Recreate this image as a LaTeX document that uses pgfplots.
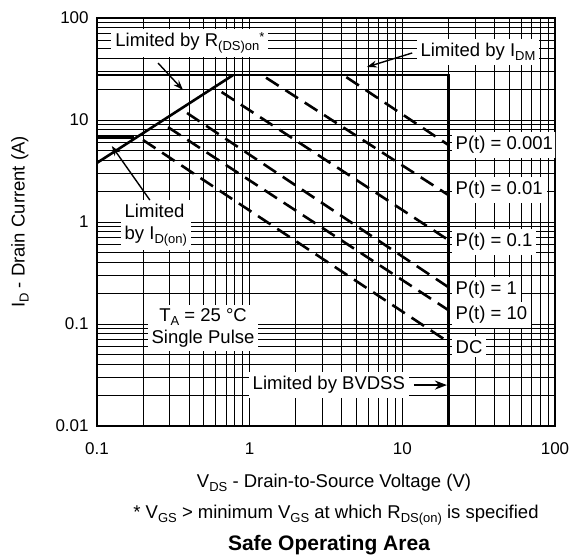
\documentclass[border=0pt]{standalone}
\usepackage{pgfplots}
\pgfplotsset{compat=1.18}
\usetikzlibrary{arrows.meta}
\usepackage{fontspec}
\setmainfont{Liberation Sans}
\newcommand\sub[1]{\raisebox{-4pt}{\fontsize{13}{13}\selectfont #1}}
\tikzset{
  lim/.style={black, line width=2.6pt, line join=miter},
  pw/.style={black, line width=2.6pt, dash pattern=on 15pt off 8pt},
  lbl/.style={fill=white, inner sep=4pt},
}
\begin{document}
\fontsize{18.5}{22}\selectfont
\begin{tikzpicture}
\begin{axis}[
  xmode=log, ymode=log,
  scale only axis, width=458pt, height=408pt,
  xmin=0.1, xmax=100, ymin=0.01, ymax=100,
  xtick={0.1,1,10,100}, xticklabels={0.1,1,10,100},
  ytick={0.01,0.1,1,10,100}, yticklabels={0.01,0.1,1,10,100},
  minor xtick={0.2,0.3,0.4,0.5,0.6,0.7,0.8,0.9,2,3,4,5,6,7,8,9,20,30,40,50,60,70,80,90},
  minor ytick={0.02,0.03,0.04,0.05,0.06,0.07,0.08,0.09,0.2,0.3,0.4,0.5,0.6,0.7,0.8,0.9,2,3,4,5,6,7,8,9,20,30,40,50,60,70,80,90},
  major tick length=0pt, minor tick length=0pt,
  grid=both,
  major grid style={black, line width=0.8pt},
  minor grid style={black, line width=0.8pt},
  axis line style={line width=2pt},
  ticklabel style={font=\fontsize{17}{20}\selectfont},
  xticklabel style={yshift=-10pt},
  yticklabel style={xshift=-2pt},
]
% limits
\addplot[lim] coordinates {(0.1,27.5) (20,27.5) (20,0.01)};
\addplot[lim] coordinates {(0.1,3.8) (0.777,27.5)};
\addplot[lim] coordinates {(0.1,6.7) (0.176,6.7)};
% pulse lines
\addplot[pw] coordinates {(4.3,26.3) (20,5.7)};
\addplot[pw] coordinates {(1.28,26) (20,1.84)};
\addplot[pw] coordinates {(0.655,18.8) (20,0.667)};
\addplot[pw] coordinates {(0.389,11.7) (20,0.23)};
\addplot[pw] coordinates {(0.292,8.5) (20,0.137)};
\addplot[pw] coordinates {(0.2,6.37) (20,0.0667)};

\node[lbl] at (axis cs:0.406,56.9) {Limited by R\sub{(DS)on}\raisebox{5pt}{\fontsize{13}{13}\selectfont *}};
\draw[line width=1.4pt, -{Stealth[length=10pt,width=7pt]}] (axis cs:0.251,36.2) -- (axis cs:0.366,19.7);
\node[lbl] at (axis cs:31.3,46.4) {Limited by I\sub{DM}};
\draw[line width=1.4pt, -{Stealth[length=10pt,width=7pt]}] (axis cs:11.6,45.4) -- (axis cs:5.86,33.1);
\node[lbl, align=left] at (axis cs:0.243,0.935) {Limited\\by I\sub{D(on)}};
\draw[line width=1.4pt, -{Stealth[length=10pt,width=7pt]}] (axis cs:0.222,1.64) -- (axis cs:0.125,5.56);
\node[lbl, align=center] at (axis cs:0.495,0.0914) {T\sub{A} = 25 °C\\Single Pulse};
\node[lbl] at (axis cs:3.3,0.0252) {Limited by BVDSS};
\draw[line width=2.4pt, -{Stealth[length=12pt,width=9pt]}] (axis cs:11.9,0.0252) -- (axis cs:19.6,0.0252);

\node[lbl, anchor=west] at (axis cs:21,5.7) {P(t) = 0.001};
\node[lbl, anchor=west] at (axis cs:21,2.06) {P(t) = 0.01};
\node[lbl, anchor=west] at (axis cs:21,0.637) {P(t) = 0.1};
\node[lbl, anchor=west] at (axis cs:21,0.215) {P(t) = 1};
\node[lbl, anchor=west] at (axis cs:21,0.1225) {P(t) = 10};
\node[lbl, anchor=west] at (axis cs:21,0.0596) {DC};
\end{axis}
\node[rotate=90] at ([xshift=-77pt]current axis.west) {I\sub{D} - Drain Current (A)};
\node at ([xshift=8pt,yshift=-57pt]current axis.south) {V\sub{DS} - Drain-to-Source Voltage (V)};
\node at ([xshift=10pt,yshift=-89pt]current axis.south) {* V\sub{GS} > minimum V\sub{GS} at which R\sub{DS(on)} is specified};
\node[font=\fontsize{21}{24}\bfseries] at ([xshift=3pt,yshift=-119pt]current axis.south) {Safe Operating Area};
\pgfresetboundingbox
\path ([xshift=-97pt,yshift=-128pt]current axis.south west) rectangle ([xshift=19pt,yshift=18pt]current axis.north east);
\end{tikzpicture}
\end{document}
